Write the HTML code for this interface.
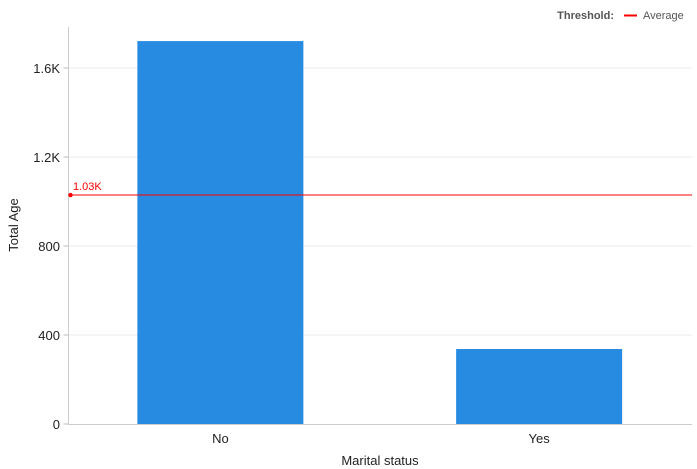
<!DOCTYPE html>
<html><head><meta charset="utf-8">
<style>
body{margin:0;background:#fff;font-family:"Liberation Sans",sans-serif;}
svg{display:block}
</style></head>
<body>
<svg id="chart" width="697" height="469">
<g>
<text x="614" y="19" text-anchor="end" font-size="11" font-weight="bold" fill="#555">Threshold:</text>
<line x1="624" y1="15.5" x2="637" y2="15.5" stroke="#f00" stroke-width="2"/>
<text x="643" y="19" font-size="11" fill="#555">Average</text>
</g>
<g id="grid"></g>
<g id="bars"></g>
<g id="axes"></g>
<text x="380" y="465" text-anchor="middle" font-size="13" fill="#222">Marital status</text>
<text transform="translate(18,225) rotate(-90)" text-anchor="middle" font-size="13" fill="#222">Total Age</text>
</svg>
<script>
const categories = ["No", "Yes"];
const values = [1721, 337];
const yTicks = [0, 400, 800, 1200, 1600];
const yTickLabels = ["0", "400", "800", "1.2K", "1.6K"];
const averageValue = 1029;
const averageLabel = "1.03K";

const NS = "http://www.w3.org/2000/svg";
const x0 = 68.5, x1 = 692, yBase = 424, pxPer = 89 / 400;
const y = v => yBase - v * pxPer;
const band = (x1 - x0) / categories.length;
const bx = i => x0 + band * i + band / 2;
function mk(tag, attrs, parent, text) {
  const e = document.createElementNS(NS, tag);
  for (const k in attrs) e.setAttribute(k, attrs[k]);
  if (text !== undefined) e.textContent = text;
  document.getElementById(parent).appendChild(e);
  return e;
}
yTicks.forEach((t, i) => {
  if (t > 0) {
    const g = mk("line", {x1: x0, x2: x1, y1: y(t), y2: y(t), stroke: "#ebebeb"}, "grid");
    
    
  }
  const tx = mk("text", {x: 60, y: y(t) + 5, "text-anchor": "end", "font-size": 13, fill: "#222"}, "axes", yTickLabels[i]);
  
  
  const tk = mk("line", {x1: x0 - 5, x2: x0, y1: y(t), y2: y(t), stroke: "#bbb"}, "axes");
  
  
});
const bw = 166;
categories.forEach((c, i) => {
  const r = mk("rect", {x: bx(i) - bw / 2 - 4 + i * 7, y: y(values[i]), width: bw, height: yBase - y(values[i]), fill: "#288be2"}, "bars");
  
  
  const l = mk("text", {x: bx(i) - 4 + i * 7, y: 443, "text-anchor": "middle", "font-size": 13, fill: "#222"}, "axes", c);
  
  
});
const ax = mk("line", {x1: x0, x2: x0, y1: 27, y2: yBase, stroke: "#ccc"}, "axes");


const xa = mk("line", {x1: x0, x2: x1, y1: yBase + 0.5, y2: yBase + 0.5, stroke: "#ccc"}, "axes");


const av = mk("line", {x1: x0, x2: x1, y1: y(averageValue), y2: y(averageValue), stroke: "#f00", "stroke-width": 1}, "axes");


const ad = mk("circle", {cx: x0 + 2, cy: y(averageValue), r: 2.2, fill: "#f00"}, "axes");


const at = mk("text", {x: 73, y: y(averageValue) - 5, "font-size": 11, fill: "#f00"}, "axes", averageLabel);


</script>
</body></html>
